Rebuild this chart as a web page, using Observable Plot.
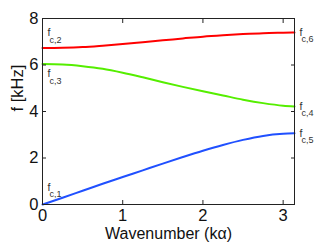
<!DOCTYPE html>
<html><head><meta charset="utf-8">
<script src="https://cdn.jsdelivr.net/npm/d3@7"></script>
<script src="https://cdn.jsdelivr.net/npm/@observablehq/plot@0.6"></script>
<style>body{margin:0;background:#fff}</style>
</head><body><div id="chart"></div>
<script>
const k = [0, 0.25, 0.5, 0.75, 1, 1.25, 1.5, 1.75, 2, 2.25, 2.5, 2.75, 3, Math.PI];
const branch1 = [0, 0.29, 0.59, 0.89, 1.18, 1.47, 1.76, 2.04, 2.31, 2.56, 2.78, 2.95, 3.04, 3.06];
const branch2 = [6.73, 6.74, 6.77, 6.83, 6.90, 6.98, 7.06, 7.14, 7.22, 7.28, 7.33, 7.37, 7.39, 7.40];
const branch3 = [6.04, 6.02, 5.95, 5.84, 5.67, 5.47, 5.26, 5.06, 4.87, 4.69, 4.51, 4.36, 4.25, 4.22];
const xTicks = [0, 1, 2, 3];
const yTicks = [0, 2, 4, 6, 8];
const seriesColors = ["#2050ff", "#ff0000", "#55ee00"];
// labels: subscript text, which branch, which end
const labelSubs = ["c,1", "c,2", "c,3", "c,4", "c,5", "c,6"];
const labelBranch = [0, 1, 2, 2, 0, 1];
const labelEnd = ["start", "start", "start", "end", "end", "end"];
// pixel offsets (style): [dx, dy] for the "f"
const labelOffsets = [[3, -17], [3, -15], [3, 10], [3, 0], [3, 0], [3, 0]];

const series = [branch1, branch2, branch3];

const labels = labelSubs.map((sub, i) => {
  const j = labelEnd[i] === "start" ? 0 : k.length - 1;
  return {k: k[j], f: series[labelBranch[i]][j], sub, off: labelOffsets[i]};
});

const font = "Liberation Sans, Arial, sans-serif";
const labelMarks = labels.flatMap(l => [
  Plot.text([l], {x: "k", y: "f", text: () => "f", dx: l.off[0] + 2, dy: l.off[1], textAnchor: "start", fontSize: 10.5, fill: "#333", fontFamily: font}),
  Plot.text([l], {x: "k", y: "f", text: "sub", dx: l.off[0] + 4, dy: l.off[1] + 7, textAnchor: "start", fontSize: 9, fill: "#333", fontFamily: font})
]);

const lineMarks = series.map((s, i) =>
  Plot.line(k.map((kk, j) => ({k: kk, f: s[j]})), {x: "k", y: "f", stroke: seriesColors[i], strokeWidth: 2, curve: "monotone-x"})
);

const chart = Plot.plot({
  width: 326,
  height: 245,
  marginLeft: 42,
  marginRight: 32,
  marginTop: 18,
  marginBottom: 41,
  style: {fontFamily: font, color: "#111", background: "#fff", overflow: "visible"},
  x: {domain: [0, Math.PI]},
  y: {domain: [0, 8]},
  marks: [
    ...lineMarks,
    Plot.frame({stroke: "#222", strokeWidth: 1}),
    Plot.axisX(xTicks, {anchor: "bottom", tickSize: 0, tickPadding: 5, fontSize: 16.5, label: null}),
    Plot.axisX(xTicks, {anchor: "bottom", tickSize: -4, text: null, label: null, stroke: "#222"}),
    Plot.axisX(xTicks, {anchor: "top", tickSize: -4, text: null, label: null, stroke: "#222"}),
    Plot.axisY(yTicks, {anchor: "left", tickSize: 0, tickPadding: 4, fontSize: 16.5, label: null}),
    Plot.axisY(yTicks, {anchor: "left", tickSize: -4, text: null, label: null, stroke: "#222"}),
    Plot.axisY(yTicks, {anchor: "right", tickSize: -4, text: null, label: null, stroke: "#222"}),
    Plot.text(["Wavenumber (kα)"], {frameAnchor: "bottom", dy: 34.5, fontSize: 16, fill: "#111"}),
    Plot.text(["f [kHz]"], {frameAnchor: "left", dx: -25, dy: 0, rotate: -90, fontSize: 16.5, fill: "#111"}),
    ...labelMarks
  ]
});
document.getElementById("chart").appendChild(chart);
</script>
</body></html>
